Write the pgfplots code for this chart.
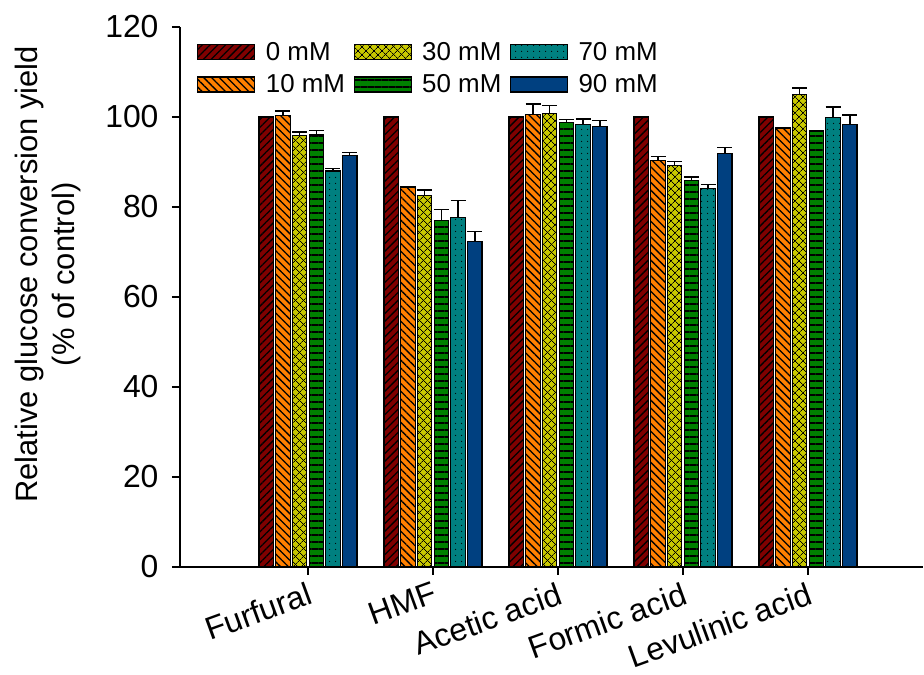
\documentclass[border=0pt]{standalone}
\usepackage{fontspec}
\setmainfont{Liberation Sans}
\usepackage{pgfplots}
\pgfplotsset{compat=1.18}
\usepackage{pgfplotstable}
\usetikzlibrary{patterns.meta}

\definecolor{c0}{RGB}{128,0,0}
\definecolor{c10}{RGB}{255,128,0}
\definecolor{c30}{RGB}{200,200,0}
\definecolor{c50}{RGB}{0,128,0}
\definecolor{c70}{RGB}{0,128,128}
\definecolor{c90}{RGB}{0,64,128}

\pgfplotstableread{
x y0  y10   e10 y30   e30 y50  e50 y70  e70 y90  e90
1 100 100.3 1.0 95.8  0.9 96.0 1.0 88.0 0.5 91.5 0.6
2 100 84.3  0.1 82.5  1.3 77.0 2.4 77.6 3.8 72.4 2.1
3 100 100.6 2.3 100.8 1.7 98.8 0.6 98.4 1.2 97.9 1.3
4 100 90.3  0.9 89.3  0.8 85.9 0.8 84.1 0.9 91.8 1.4
5 100 97.6  0.0 105.0 1.4 96.7 0.3 99.9 2.3 98.4 2.0
}\data

\begin{document}
\begin{tikzpicture}
\useasboundingbox (-180bp,-108bp) rectangle (744bp,567bp);
\begin{axis}[
  scale only axis, width=743bp, height=540bp,
  xmin=-0.024, xmax=5.92, ymin=0, ymax=120,
  axis lines=left,
  axis line style={-, line width=1.5bp, black},
  ytick={0,20,...,120},
  xtick={1,...,5},
  xticklabels={Furfural,HMF,Acetic acid,Formic acid,Levulinic acid},
  tick align=outside,
  major tick length=8bp,
  tick style={black, line width=1.2bp},
  /pgf/number format/assume math mode=true,
  yticklabel style={font=\fontsize{32}{38}\selectfont, xshift=-10bp},
  xticklabel style={font=\fontsize{32}{38}\selectfont, yshift=-2bp, rotate=20, anchor=north east},
  ylabel={Relative glucose conversion yield\\(\% of control)},
  ylabel style={align=center, font=\fontsize{31}{37}\selectfont,
    at={(axis description cs:-0.178,0.542)}, anchor=center},
  ybar, bar width=0.115,
  every axis plot/.append style={draw=black, line width=1.2bp},
  legend columns=3,
  legend cell align=left,
  legend style={at={(axis description cs:0.0,1.0)}, anchor=north west,
    xshift=14bp, yshift=-11bp,
    draw=none, fill=none, font=\fontsize{26}{30}\selectfont,
    column sep=6.5bp, row sep=9bp},
  legend image code/.code={\draw[#1] (0bp,-7.5bp) rectangle (57bp,7.5bp); \path (0bp,0bp) (59bp,0bp);},
  error bars/error bar style={line width=1.5bp, black},
  error bars/error mark options={rotate=90, mark size=7.5bp, line width=1.5bp, black},
]
\addplot[fill=c0, bar shift=-0.334,
  postaction={pattern={Lines[angle=45,distance=5.5bp,line width=1.3bp]}}]
  table[x=x, y=y0] {\data};
\addlegendentry{0 mM}
\addplot[fill=c30, bar shift=-0.0668,
  postaction={pattern={Lines[angle=45,distance=6bp,line width=1bp]}},
  postaction={pattern={Lines[angle=-45,distance=6bp,line width=1bp]}},
  error bars/.cd, y dir=plus, y explicit]
  table[x=x, y=y30, y error=e30] {\data};
\addlegendentry{30 mM}
\addplot[fill=c70, bar shift=0.2,
  postaction={pattern={Dots[distance=6bp,radius=0.7bp]}},
  error bars/.cd, y dir=plus, y explicit]
  table[x=x, y=y70, y error=e70] {\data};
\addlegendentry{70 mM}
\addplot[fill=c10, bar shift=-0.2,
  postaction={pattern={Lines[angle=-45,distance=5.5bp,line width=1.3bp]}},
  error bars/.cd, y dir=plus, y explicit]
  table[x=x, y=y10, y error=e10] {\data};
\addlegendentry{10 mM}
\addplot[fill=c50, bar shift=0.0668,
  postaction={pattern={Lines[angle=0,distance=7bp,line width=1.3bp]}},
  error bars/.cd, y dir=plus, y explicit]
  table[x=x, y=y50, y error=e50] {\data};
\addlegendentry{50 mM}
\addplot[fill=c90, bar shift=0.334,
  error bars/.cd, y dir=plus, y explicit]
  table[x=x, y=y90, y error=e90] {\data};
\addlegendentry{90 mM}
\end{axis}
\end{tikzpicture}
\end{document}
